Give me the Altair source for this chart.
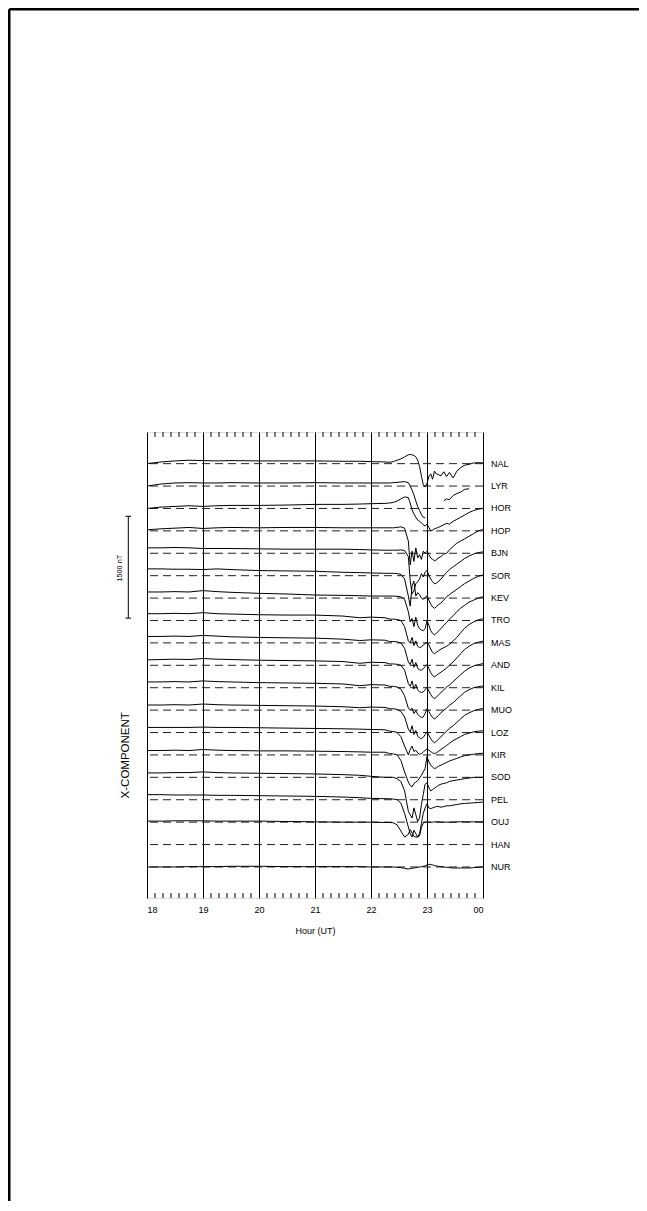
import altair as alt
import pandas as pd

STATIONS = ["NAL", "LYR", "HOR", "HOP", "BJN", "SOR", "KEV", "TRO", "MAS", "AND",
            "KIL", "MUO", "LOZ", "KIR", "SOD", "PEL", "OUJ", "HAN", "NUR"]

# minutes after 18:00 UT
T_MIN = [0, 15, 30, 45, 60, 75, 90, 120, 150, 180, 210, 228, 240, 255,
         260, 264, 268, 272, 276, 280, 282, 284, 286, 288, 290, 292, 294, 296, 298,
         300, 302, 304, 306, 308, 310, 312, 315, 318, 321, 324, 328, 332, 336, 340,
         345, 350, 355, 360]

# X component, nT relative to each station's baseline (None = data gap)
NAL = [0, 25, 40, 50, 45, 40, 45, 40, 40, 40, 35, 35, 30, 25,
       20, 30, 50, 70, 100, 130, 135, 130, 120, 100, 50, -40, -180, -310, -345,
       -290, -190, -150, -230, -110, -150, -160, -180, -120, -190, -130, -210, -110, -60, -25,
       -10, 10, 15, 10]
LYR = [0, 30, 45, 50, 45, 45, 50, 45, 45, 50, 45, 45, 45, 45,
       45, 50, 55, 60, 65, 50, 0, -60, -130, -220, -300, -360, -420, -460, -470,
       None, None, None, None, None, None, None, None, -215, -190, -200, -140, -110, -90, -50,
       -40, None, None, None]
HOR = [0, 20, 30, 40, 30, 40, 45, 45, 50, 60, 60, 65, 70, 75,
       80, 90, 110, 140, 170, 160, 80, -20, -80, -130, -170, -190, -210, -240, -260,
       -230, -280, -330, -320, -300, -290, -280, -260, -240, -220, -230, -190, -160, -130, -100,
       -60, -30, -10, 0]
HOP = [15, 30, 40, 50, 35, 45, 50, 45, 50, 50, 45, 45, 45, 45,
       45, 45, 50, 60, 40, -150, -500, -300, -450, -250, -400, -350, -420, -300, -330,
       -300, -350, -400, -420, -440, -430, -400, -380, -340, -330, -280, -230, -180, -150, -120,
       -80, -40, 0, 20]
BJN = [80, 80, 85, 80, 70, 70, 70, 65, 60, 60, 60, 55, 50, 45,
       45, 45, 45, 50, 40, -50, -400, -600, -550, -450, -420, -380, -300, -350, -280,
       -250, -330, -380, -420, -450, -440, -420, -380, -330, -280, -240, -200, -160, -120, -80,
       -40, -10, 10, 20]
SOR = [100, 100, 95, 95, 90, 100, 90, 75, 70, 65, 50, 45, 40, 35,
       35, 35, 30, 20, -50, -300, -450, -150, -80, -300, -250, -280, -330, -350, -320,
       -300, -360, -420, -460, -480, -460, -430, -400, -360, -310, -280, -240, -200, -160, -120,
       -80, -40, -10, 10]
KEV = [90, 90, 95, 90, 110, 95, 85, 70, 60, 45, 40, 35, 30, 30,
       30, 30, 25, 20, -20, -200, -350, -300, -420, -280, -400, -450, -470, -480, -450,
       -330, -400, -480, -520, -540, -520, -490, -450, -400, -360, -310, -260, -200, -150, -110,
       -60, -30, 0, 20]
TRO = [100, 100, 105, 100, 115, 100, 95, 85, 80, 80, 65, 40, 50, 40,
       20, 20, 15, 0, -90, -300, -330, -250, -370, -300, -380, -400, -390, -360, -340,
       -320, -360, -420, -470, -490, -470, -450, -420, -400, -380, -350, -300, -250, -180, -120,
       -60, -20, 10, 25]
MAS = [95, 95, 100, 95, 110, 100, 90, 80, 75, 70, 55, 35, 45, 40,
       20, 20, 15, 0, -80, -280, -320, -240, -360, -290, -370, -400, -400, -380, -350,
       -320, -380, -440, -480, -500, -480, -460, -430, -400, -370, -330, -280, -220, -160, -100,
       -50, -10, 10, 25]
AND = [80, 85, 90, 85, 100, 90, 85, 75, 70, 65, 55, 30, 45, 40,
       20, 20, 15, 0, -70, -270, -310, -230, -350, -280, -360, -390, -400, -390, -360,
       -320, -380, -430, -470, -490, -470, -440, -400, -360, -320, -290, -240, -190, -140, -90,
       -40, -10, 10, 25]
KIL = [85, 85, 90, 85, 100, 90, 85, 75, 70, 65, 55, 30, 45, 40,
       20, 20, 10, -20, -120, -300, -330, -300, -380, -340, -390, -420, -440, -430, -380,
       -310, -350, -400, -440, -460, -440, -410, -370, -330, -300, -260, -220, -170, -120, -70,
       -30, 0, 15, 25]
MUO = [75, 75, 80, 75, 90, 80, 75, 70, 65, 60, 50, 35, 45, 40,
       20, 20, 10, -20, -100, -280, -320, -230, -360, -300, -380, -410, -420, -400, -360,
       -320, -370, -420, -460, -480, -460, -430, -390, -350, -310, -270, -230, -180, -130, -80,
       -40, -10, 10, 25]
LOZ = [75, 75, 75, 75, 80, 75, 75, 70, 65, 60, 55, 50, 45, 40,
       20, 15, 0, -60, -200, -330, -250, -200, -280, -260, -300, -320, -310, -290, -260,
       -240, -260, -280, -300, -310, -300, -280, -250, -220, -190, -160, -120, -90, -60, -30,
       -10, 10, 20, 25]
KIR = [65, 65, 70, 65, 80, 70, 65, 60, 60, 55, 50, 45, 40, 40,
       20, 15, 0, -80, -250, -400, -450, -470, -420, -400, -380, -340, -300, -250, -200,
       -20, -100, -150, -180, -200, -190, -170, -150, -130, -110, -90, -70, -50, -30, -10,
       0, 10, 20, 25]
SOD = [65, 65, 70, 70, 80, 70, 65, 60, 55, 50, 40, 30, 15, 0,
       0, 0, -20, -60, -200, -500, -550, -600, -450, -550, -650, -600, -400, -250, -100,
       -80, -150, -200, -180, -160, -140, -120, -100, -90, -80, -60, -50, -40, -30, -20,
       -10, 0, 0, 0]
PEL = [75, 75, 70, 70, 70, 65, 65, 60, 55, 50, 40, 30, 20, 15,
       15, 10, 0, -50, -200, -400, -500, -550, -450, -500, -550, -500, -350, -200, -120,
       -60, -120, -130, -120, -110, -100, -100, -110, -100, -90, -90, -80, -70, -60, -55,
       -50, -45, -40, -35]
OUJ = [15, 15, 20, 20, 20, 15, 15, 15, 10, 5, 0, 0, 0, -5,
       -5, -10, -40, -130, -220, -180, -110, -160, -210, -220, -220, -200, -80, -10, 0,
       0, 0, 0, 0, 5, 5, 5, 0, 0, 0, 0, 0, 5, 5, 5,
       5, 5, 5, 5]
HAN = []  # no data
NUR = [0, 0, 0, 5, 5, 5, 10, 10, 5, 5, 5, 5, 0, 0,
       0, 0, -5, -10, -20, -30, -25, -20, -15, -10, -5, 0, 5, 10, 15,
       30, 40, 35, 30, 20, 15, 10, 5, 0, -5, -10, -15, -15, -15, -15,
       -15, -10, -5, 0]

SERIES = [NAL, LYR, HOR, HOP, BJN, SOR, KEV, TRO, MAS, AND, KIL, MUO, LOZ, KIR,
          SOD, PEL, OUJ, HAN, NUR]

STEP_NT = 330          # vertical separation between stations
SCALE_BAR_NT = 1500
MINOR_PER_HOUR = 7

# ---- build tables ----
rows = []
for i, (st, vals) in enumerate(zip(STATIONS, SERIES)):
    seg = 0
    for t, v in zip(T_MIN, vals):
        if v is None:
            seg += 1
            continue
        rows.append({"station": st, "seg": f"{st}-{seg}", "hour": 18 + t / 60.0,
                     "y": v - i * STEP_NT})
traces = pd.DataFrame(rows)

base = pd.DataFrame({"station": STATIONS,
                     "base": [-i * STEP_NT for i in range(len(STATIONS))]})

minor = pd.DataFrame({"tick": [18 + k / MINOR_PER_HOUR
                               for k in range(1, 6 * MINOR_PER_HOUR)
                               if k % MINOR_PER_HOUR]})

bar_top = -775
bar = pd.DataFrame({"y": [bar_top], "y2": [bar_top - SCALE_BAR_NT]})
caps = pd.DataFrame({"y": [bar_top, bar_top - SCALE_BAR_NT]})
bar_label = pd.DataFrame({"y": [bar_top - SCALE_BAR_NT / 2 - 15], "t": [f"{SCALE_BAR_NT} nT"]})
comp_label = pd.DataFrame({"y": [-4295], "t": ["X-COMPONENT"]})

W, H = 336, 466
PAD_L, PAD_T = 139, 424
TOTAL_W, TOTAL_H = 631, 1193
FONT = "Liberation Sans"
yscale = alt.Scale(domain=[-18 * STEP_NT - 457, 466], nice=False, zero=False)
xscale = alt.Scale(domain=[18, 24], nice=False, zero=False)

baselines = alt.Chart(base).mark_rule(strokeDash=[8, 5], color="#222", strokeWidth=1).encode(
    y=alt.Y("base:Q", scale=yscale, axis=None))

lines = alt.Chart(traces).mark_line(color="black", strokeWidth=1).encode(
    x=alt.X("hour:Q", scale=xscale,
            axis=alt.Axis(values=list(range(18, 25)),
                          labelExpr="datum.value == 24 ? '00' : format(datum.value, 'd')",
                          grid=True, gridColor="black", gridWidth=1, gridOpacity=1,
                          ticks=False, domain=False, labelFontSize=9, labelFont=FONT,
                          labelColor="black", labelPadding=7,
                          title="Hour (UT)", titleFontSize=9, titleFont=FONT,
                          titleFontWeight="normal", titleColor="black", titlePadding=12)),
    y=alt.Y("y:Q", scale=yscale, axis=None),
    detail="seg:N",
    order="hour:Q")

top_ticks = alt.Chart(minor).mark_rule(color="black", strokeWidth=1).encode(
    x=alt.X("tick:Q", scale=xscale), y=alt.value(0), y2=alt.value(5))
bot_ticks = alt.Chart(minor).mark_rule(color="black", strokeWidth=1).encode(
    x=alt.X("tick:Q", scale=xscale), y=alt.value(H), y2=alt.value(H - 5))

labels = alt.Chart(base).mark_text(align="left", baseline="middle", fontSize=9,
                                   font=FONT, color="black").encode(
    x=alt.value(W + 8), y=alt.Y("base:Q", scale=yscale), text="station:N")

bar_rule = alt.Chart(bar).mark_rule(color="black", strokeWidth=1).encode(
    x=alt.value(-18.7), y=alt.Y("y:Q", scale=yscale), y2="y2:Q")
bar_caps = alt.Chart(caps).mark_rule(color="black", strokeWidth=1).encode(
    x=alt.value(-21.5), x2=alt.value(-16), y=alt.Y("y:Q", scale=yscale))
bar_text = alt.Chart(bar_label).mark_text(angle=270, fontSize=7.3, font=FONT,
                                          color="black", baseline="middle").encode(
    x=alt.value(-27), y=alt.Y("y:Q", scale=yscale), text="t:N")
comp_text = alt.Chart(comp_label).mark_text(angle=270, fontSize=11.5, font=FONT,
                                            color="black", baseline="middle").encode(
    x=alt.value(-21.5), y=alt.Y("y:Q", scale=yscale), text="t:N")

# outer page frame (top and left edges visible; the rest runs off the page)
frame_df = pd.DataFrame({"k": [0]})
frame_left = alt.Chart(frame_df).mark_rule(color="black", strokeWidth=2.5).encode(
    x=alt.value(-PAD_L + 1.25), y=alt.value(-PAD_T + 1.25), y2=alt.value(TOTAL_H))
frame_top = alt.Chart(frame_df).mark_rule(color="black", strokeWidth=2.5).encode(
    y=alt.value(-PAD_T + 1.25), x=alt.value(-PAD_L + 1.25), x2=alt.value(TOTAL_W))

chart = alt.layer(baselines, lines, top_ticks, bot_ticks, labels, bar_rule, bar_caps,
                  bar_text, comp_text, frame_left, frame_top).properties(
    width=W, height=H,
    autosize=alt.AutoSizeParams(type="none"),
    padding={"left": PAD_L, "top": PAD_T,
             "right": TOTAL_W - PAD_L - W, "bottom": TOTAL_H - PAD_T - H}
).configure_view(stroke="black", strokeWidth=1.6).configure(background="white")

chart.save("out.html", embed_options={"renderer": "svg", "actions": False})
